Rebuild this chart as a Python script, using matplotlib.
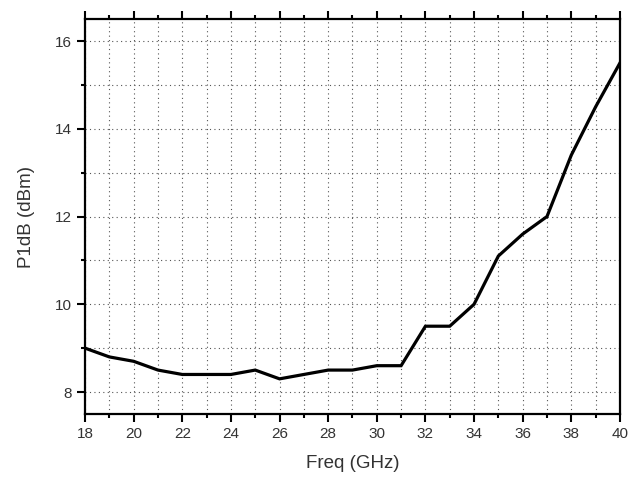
import numpy as np
import matplotlib
matplotlib.use('Agg')
import matplotlib.pyplot as plot
from matplotlib.ticker import MultipleLocator

plot.rcParams['font.family'] = ['Liberation Sans', 'DejaVu Sans']

freq = [18, 19, 20, 21, 22, 23, 24, 25, 26, 27, 28, 29, 30, 31, 32, 33, 34, 35, 36, 37, 38, 39, 40]
p1db = [9.0, 8.8, 8.7, 8.5, 8.4, 8.4, 8.4, 8.5, 8.3, 8.4, 8.5, 8.5, 8.6, 8.6,
        9.5, 9.5, 10.0, 11.1, 11.6, 12.0, 13.4, 14.5, 15.5]

figure = plot.figure(figsize=(6.3, 4.78), dpi=100)
ax = figure.add_axes([0.135, 0.134, 0.849, 0.826])

ax.plot(freq, p1db, color='black', linewidth=2.3, solid_joinstyle='miter')

ax.set_xlim(18, 40)
ax.set_ylim(7.5, 16.5)
ax.xaxis.set_major_locator(MultipleLocator(2))
ax.xaxis.set_minor_locator(MultipleLocator(1))
ax.yaxis.set_major_locator(MultipleLocator(2))
ax.yaxis.set_minor_locator(MultipleLocator(1))

ax.grid(which='both', linestyle=(0, (1, 3)), linewidth=0.8, color='#555555')

for s in ax.spines.values():
    s.set_linewidth(1.6)

ax.tick_params(which='both', direction='out', top=True, right=False,
               width=1.5, colors='black', labelcolor='#333333', labelsize=11)
ax.tick_params(which='major', length=6)
ax.tick_params(which='minor', length=3)

ax.set_xlabel('Freq (GHz)', fontsize=13.5, color='#333333', labelpad=10)
ax.set_ylabel('P1dB (dBm)', fontsize=13.5, color='#333333', labelpad=14)

plot.savefig('out.png', dpi=100)
